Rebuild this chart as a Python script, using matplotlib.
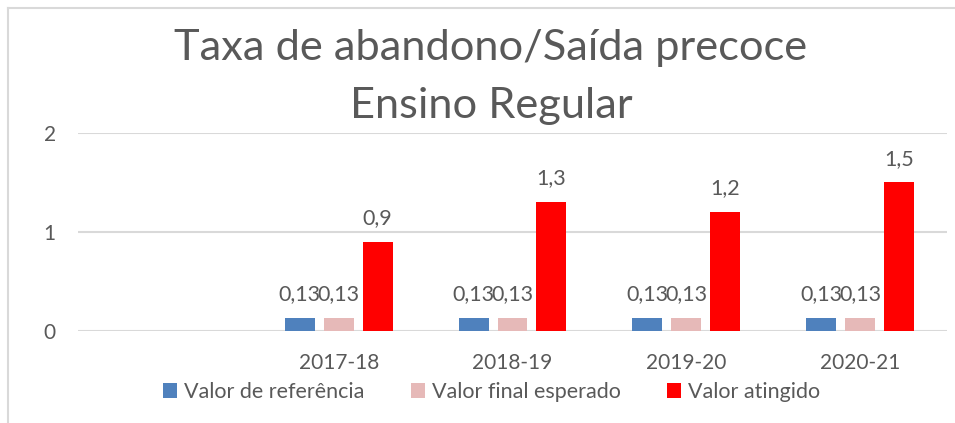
import matplotlib
matplotlib.use("Agg")
import matplotlib.pyplot as plt
import numpy as np
from matplotlib.lines import Line2D

categories = ["", "2017-18", "2018-19", "2019-20", "2020-21"]
valor_referencia = [np.nan, 0.13, 0.13, 0.13, 0.13]
valor_final_esperado = [np.nan, 0.13, 0.13, 0.13, 0.13]
valor_atingido = [np.nan, 0.9, 1.3, 1.2, 1.5]
series_names = ["Valor de referência", "Valor final esperado", "Valor atingido"]
colors = ["#4F81BD", "#E6B9B8", "#FF0000"]
yticks = [0, 1, 2]

FONT = ["Lato", "DejaVu Sans"]
TXT = "#595959"
plt.rcParams["font.family"] = FONT

W, H = 955, 423
fig = plt.figure(figsize=(W / 100, H / 100), dpi=100)
ax = fig.add_axes([78 / W, 1 - 331 / H, (947 - 78) / W, (331 - 133) / H])

x = np.arange(len(categories))
bw = 0.172
step = 0.224
series = [valor_referencia, valor_final_esperado, valor_atingido]
for i, (vals, name, c) in enumerate(zip(series, series_names, colors)):
    bars = ax.bar(x + (i - 1) * step, vals, width=bw, color=c, label=name, zorder=3)
    labels = ["" if np.isnan(v) else f"{v:g}".replace(".", ",") for v in vals]
    ax.bar_label(bars, labels=labels, padding=10, fontsize=15.5, color=TXT)

ax.set_xlim(-0.5, len(categories) - 0.5)
ax.set_ylim(0, 2)
ax.set_yticks(yticks)
ax.set_yticklabels([str(t) for t in yticks], fontsize=15, color=TXT)
ax.set_xticks(x)
ax.set_xticklabels(categories, fontsize=15, color=TXT)
ax.tick_params(axis="y", length=0, pad=16)
ax.tick_params(axis="x", length=0, pad=16)
ax.grid(axis="y", color="#D9D9D9", linewidth=1.5, zorder=0)
for s in ax.spines.values():
    s.set_visible(False)
ax.set_facecolor("none")

fig.text(491 / W, 1 - 60 / H, "Taxa de abandono/Saída precoce", ha="center",
         va="baseline", fontsize=31.2, color=TXT)
fig.text(491 / W, 1 - 118 / H, "Ensino Regular", ha="center",
         va="baseline", fontsize=31.2, color=TXT)

leg = fig.legend(loc="center", bbox_to_anchor=(492 / W, 1 - 392 / H), ncol=3,
                 frameon=False, fontsize=15.5, handlelength=0.65, handleheight=0.65,
                 handletextpad=0.33, columnspacing=2.15, labelcolor=TXT)

fig.add_artist(Line2D([8 / W, 8 / W], [0, 1 - 8 / H], transform=fig.transFigure,
                      color="#D9D9D9", linewidth=1.5))
fig.add_artist(Line2D([8 / W, 1], [1 - 8 / H, 1 - 8 / H], transform=fig.transFigure,
                      color="#D9D9D9", linewidth=1.5))

fig.savefig("out.png", dpi=100)
